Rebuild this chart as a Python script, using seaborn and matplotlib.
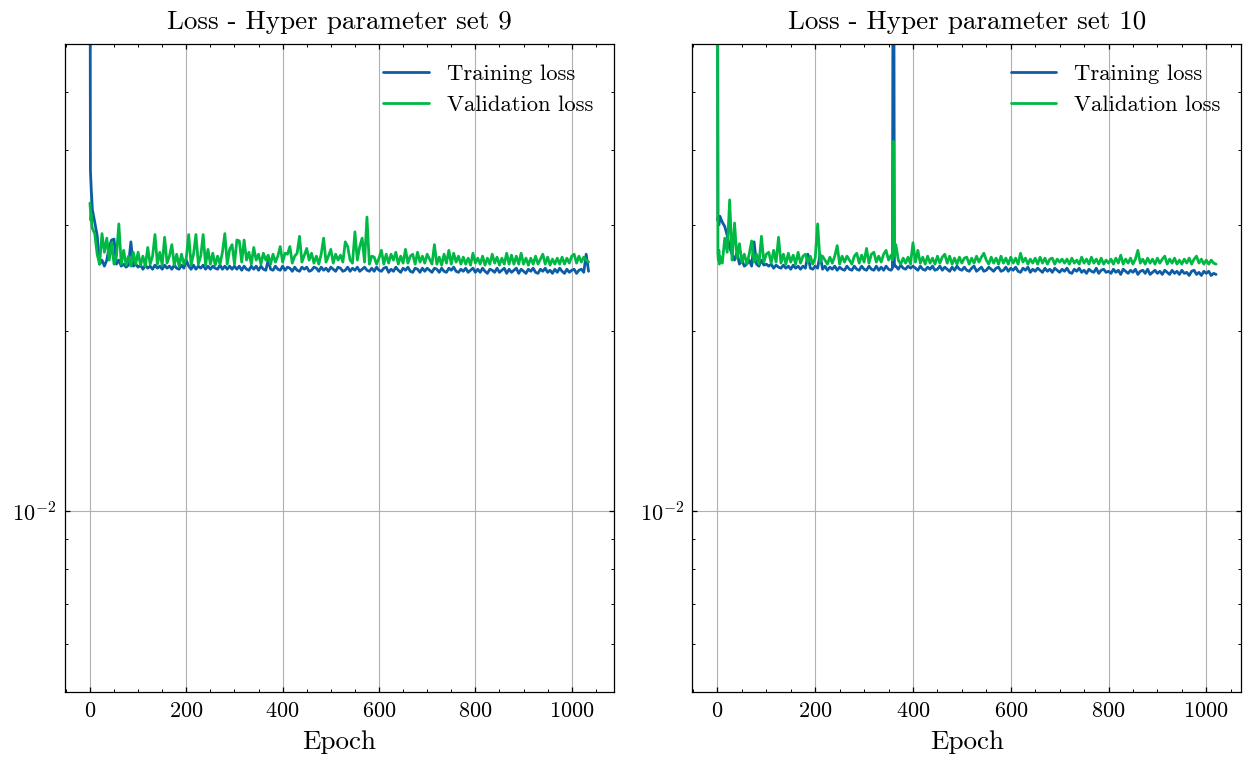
import matplotlib
matplotlib.use("Agg")
import matplotlib.pyplot as plt
import numpy as np
import pandas as pd
import seaborn as sns
from matplotlib.ticker import MultipleLocator, LogLocator, NullFormatter

# Loss values are stored in units of 1e-4.
# Epochs 0-4 are listed one by one, afterwards one value every 5 epochs;
# a few extra epochs around sharp spikes are listed separately.
LOSS_UNIT = 1e-4

# ---- Hyper parameter set 9 ----
set9_train_head = [1500, 370, 355, 340, 330]
set9_train = [
    318, 303, 288, 258, 262, 256, 262, 276, 283, 284, 258, 262, 256, 258, 255, 257, 281, 256, 258, 255,
    257, 253, 257, 254, 256, 253, 257, 254, 256, 253, 257, 254, 256, 253, 257, 254, 253, 257, 254, 262,
    256, 253, 257, 253, 256, 254, 257, 253, 256, 253, 256, 254, 253, 257, 253, 256, 253, 256, 253, 256,
    253, 256, 252, 256, 253, 252, 256, 253, 256, 252, 256, 253, 252, 262, 253, 252, 256, 253, 252, 256,
    252, 255, 254, 251, 255, 252, 251, 255, 253, 255, 251, 252, 255, 254, 251, 255, 252, 254, 251, 255,
    253, 251, 255, 254, 251, 252, 255, 251, 254, 252, 255, 251, 253, 255, 252, 251, 254, 251, 255, 252,
    251, 254, 255, 250, 253, 251, 255, 252, 250, 254, 252, 255, 251, 250, 254, 253, 250, 254, 251, 254,
    252, 250, 254, 253, 250, 254, 251, 250, 254, 252, 255, 251, 250, 253, 251, 254, 250, 252, 254, 250,
    253, 250, 254, 251, 249, 253, 252, 250, 254, 250, 252, 254, 249, 253, 250, 252, 254, 249, 253, 251,
    249, 253, 251, 254, 250, 249, 253, 251, 254, 250, 252, 249, 253, 250, 254, 251, 249, 253, 250, 252,
    253, 249, 252, 253, 250, 268, 251,
]
set9_val_head = [326, 318, 305, 312, 300]
set9_val = [
    296, 290, 268, 258, 290, 270, 285, 262, 280, 258, 266, 301, 258, 272, 257, 266, 256, 270, 258, 270,
    257, 266, 256, 275, 258, 266, 289, 258, 270, 257, 286, 259, 266, 278, 257, 268, 256, 268, 258, 264,
    289, 257, 268, 289, 258, 266, 289, 257, 273, 258, 269, 257, 266, 258, 270, 290, 258, 273, 278, 258,
    283, 282, 260, 283, 262, 270, 258, 275, 262, 268, 258, 269, 262, 267, 258, 268, 260, 266, 276, 260,
    269, 268, 276, 259, 266, 269, 287, 260, 267, 274, 262, 269, 259, 266, 258, 268, 285, 260, 266, 273,
    259, 268, 262, 267, 260, 281, 276, 262, 259, 292, 262, 276, 285, 260, 309, 258, 266, 265, 258, 264,
    272, 258, 268, 259, 268, 262, 270, 258, 266, 259, 273, 259, 266, 268, 258, 270, 260, 266, 259, 268,
    263, 258, 278, 258, 265, 257, 268, 259, 272, 258, 269, 260, 266, 258, 265, 258, 264, 257, 269, 259,
    264, 258, 266, 257, 264, 258, 268, 259, 265, 257, 264, 258, 269, 258, 267, 258, 266, 258, 269, 258,
    264, 257, 264, 258, 266, 258, 263, 268, 258, 265, 257, 263, 258, 264, 258, 265, 258, 264, 259, 266,
    268, 259, 266, 260, 265, 262, 260,
]

# ---- Hyper parameter set 10 ----
set10_train_head = [1500, 305, 310, 300, 308]
set10_train = [
    310, 303, 298, 288, 275, 268, 262, 270, 258, 262, 256, 258, 262, 256, 281, 258, 256, 262, 257, 258,
    256, 258, 254, 257, 255, 254, 257, 254, 256, 253, 257, 254, 256, 253, 256, 254, 268, 254, 253, 256,
    254, 268, 253, 256, 252, 255, 253, 256, 252, 255, 253, 252, 256, 253, 252, 256, 253, 252, 256, 253,
    252, 256, 253, 252, 256, 252, 255, 252, 256, 253, 252, 2000, 256, 253, 257, 254, 253, 256, 254, 256,
    254, 252, 256, 253, 252, 255, 253, 256, 252, 253, 256, 252, 255, 253, 251, 255, 252, 256, 253, 252,
    255, 252, 251, 254, 256, 251, 253, 255, 251, 252, 255, 253, 251, 254, 255, 251, 252, 255, 251, 254,
    252, 255, 251, 250, 254, 252, 255, 250, 253, 251, 254, 252, 250, 254, 251, 253, 250, 254, 252, 250,
    253, 251, 254, 250, 249, 253, 251, 254, 250, 252, 249, 253, 251, 250, 254, 249, 252, 253, 250, 251,
    249, 253, 250, 252, 248, 253, 251, 249, 252, 250, 253, 248, 251, 252, 249, 253, 248, 250, 252, 249,
    251, 248, 252, 250, 248, 252, 249, 251, 248, 252, 249, 250, 247, 251, 252, 248, 250, 247, 251, 249,
    251, 247, 249, 248,
]
set10_train_extra_epochs = [358, 362]
set10_train_extra = [254, 256]
set10_val_head = [1200, 268, 262, 272, 258]
set10_val = [
    266, 259, 285, 270, 330, 262, 302, 264, 279, 260, 268, 258, 268, 282, 260, 268, 258, 287, 260, 268,
    270, 259, 272, 260, 286, 259, 268, 258, 269, 260, 267, 258, 270, 259, 266, 268, 260, 266, 258, 264,
    301, 260, 266, 262, 258, 265, 259, 266, 277, 258, 266, 260, 266, 262, 258, 266, 269, 259, 267, 260,
    274, 259, 268, 270, 260, 266, 260, 268, 272, 262, 267, 413, 278, 262, 258, 264, 259, 265, 258, 280,
    260, 272, 259, 265, 258, 266, 259, 264, 258, 266, 259, 265, 268, 259, 266, 258, 264, 258, 265, 259,
    264, 265, 258, 264, 259, 266, 260, 265, 269, 262, 258, 265, 259, 264, 258, 266, 259, 264, 258, 265,
    259, 264, 258, 269, 260, 264, 258, 263, 259, 264, 258, 265, 259, 264, 258, 263, 264, 258, 263, 260,
    263, 259, 263, 258, 264, 259, 262, 258, 265, 259, 263, 258, 265, 259, 263, 258, 264, 258, 262, 259,
    263, 258, 264, 259, 267, 258, 263, 259, 264, 258, 263, 272, 259, 263, 258, 264, 259, 263, 258, 264,
    259, 263, 266, 258, 263, 259, 264, 258, 262, 258, 263, 259, 264, 258, 263, 266, 259, 263, 258, 262,
    258, 262, 259, 258,
]
set10_val_extra_epochs = [358, 362]
set10_val_extra = [262, 266]

titles = ["Loss - Hyper parameter set 9", "Loss - Hyper parameter set 10"]
series_labels = ["Training loss", "Validation loss"]
colors = ["#0C5DA5", "#00B945"]


def to_frame(head, rest, label, extra_epochs=(), extra=()):
    epochs = list(range(len(head))) + [5 * (i + 1) for i in range(len(rest))]
    epochs += list(extra_epochs)
    values = np.array(head + rest + list(extra), dtype=float) * LOSS_UNIT
    df = pd.DataFrame({"Epoch": epochs, "Loss": values, "Series": label})
    return df.sort_values("Epoch")


runs = [
    pd.concat([to_frame(set9_train_head, set9_train, series_labels[0]),
               to_frame(set9_val_head, set9_val, series_labels[1])]),
    pd.concat([to_frame(set10_train_head, set10_train, series_labels[0],
                        set10_train_extra_epochs, set10_train_extra),
               to_frame(set10_val_head, set10_val, series_labels[1],
                        set10_val_extra_epochs, set10_val_extra)]),
]

sns.set_style("ticks")
plt.rcParams.update({
    "font.family": "serif",
    "font.serif": ["cmr10"],
    "mathtext.fontset": "cm",
    "axes.formatter.use_mathtext": True,
    "text.color": "black",
    "axes.labelcolor": "black",
    "axes.linewidth": 0.9,
    "axes.edgecolor": "black",
    "xtick.direction": "in",
    "ytick.direction": "in",
    "xtick.top": True,
    "ytick.right": True,
    "xtick.major.size": 3.6,
    "ytick.major.size": 3.6,
    "xtick.minor.size": 2.0,
    "ytick.minor.size": 2.0,
    "xtick.major.width": 0.9,
    "ytick.major.width": 0.9,
    "xtick.minor.width": 0.7,
    "ytick.minor.width": 0.7,
    "xtick.major.pad": 6.5,
    "ytick.major.pad": 6.0,
    "xtick.minor.visible": True,
    "ytick.minor.visible": True,
    "xtick.color": "black",
    "ytick.color": "black",
})

fig, axes = plt.subplots(1, 2, figsize=(12.5, 7.63), dpi=100)
fig.subplots_adjust(left=0.052, right=0.9928, top=0.9423, bottom=0.093, wspace=0.144)

for ax, df, title in zip(axes, runs, titles):
    sns.lineplot(data=df, x="Epoch", y="Loss", hue="Series", palette=colors,
                 hue_order=series_labels, estimator=None, sort=True,
                 linewidth=2.0, ax=ax)
    ax.set_yscale("log")
    ax.set_ylim(0.005, 0.06)
    ax.margins(x=0.05)
    ax.xaxis.set_major_locator(MultipleLocator(200))
    ax.xaxis.set_minor_locator(MultipleLocator(50))
    ax.yaxis.set_minor_locator(LogLocator(base=10, subs=np.arange(2, 10)))
    ax.yaxis.set_minor_formatter(NullFormatter())
    ax.grid(True, which="major", color="#b0b0b0", linewidth=0.8)
    ax.set_axisbelow(True)
    ax.set_title(title, fontsize=19.5, pad=11)
    ax.set_xlabel("Epoch", fontsize=19.5, labelpad=7)
    ax.set_ylabel("")
    ax.tick_params(axis="both", which="major", labelsize=16)
    ax.legend(loc="upper right", frameon=False, fontsize=16.3, title=None)

fig.savefig("out.png", dpi=100)
